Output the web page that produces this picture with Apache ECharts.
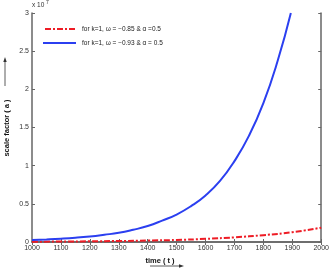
<!DOCTYPE html>
<html><head><meta charset="utf-8">
<script src="https://cdn.jsdelivr.net/npm/echarts@6/dist/echarts.min.js"></script>
<style>html,body{margin:0;padding:0;background:#fff}#c{width:332px;height:268px}</style>
</head><body><div id="c"></div>
<script>
const blueT = [1000,1050,1100,1150,1200,1250,1300,1350,1400,1450,1500,1550,1600,1650,1700,1750,1800,1850,1895];
const blueA = [0.025,0.033,0.043,0.056,0.073,0.095,0.12,0.16,0.21,0.28,0.36,0.47,0.61,0.80,1.06,1.39,1.82,2.38,3.0];
const redT = [1000,1100,1200,1300,1400,1500,1600,1700,1800,1900,2000];
const redA = [0.004,0.006,0.009,0.013,0.019,0.027,0.041,0.061,0.09,0.128,0.188];
const xTicks = [1000,1100,1200,1300,1400,1500,1600,1700,1800,1900,2000];
const yTicks = [0,0.5,1,1.5,2,2.5,3];
const legendLabels = ['for k=1, \u03c9 = \u22120.85 & \u03b1 =0.5','for k=1, \u03c9 = \u22120.93 & \u03b1 = 0.5'];
const yName = 'scale factor ( a )';
const xName = 'time ( t )';

const chart = echarts.init(document.getElementById('c'), null, {renderer:'canvas'});
const axisLine = {show:true, lineStyle:{color:'#666', width:1.5}};
const tick = {show:true, inside:true, length:3, lineStyle:{color:'#666'}};
const font = 'Liberation Sans, Arial, sans-serif';
chart.setOption({
  animation:false,
  grid:{left:32, right:10, top:13, bottom:26},
  xAxis:[{type:'value', min:xTicks[0], max:xTicks[xTicks.length-1], interval:100, axisLine, axisTick:tick, splitLine:{show:false},
    axisLabel:{fontSize:7, color:'#333', margin:3, fontFamily:font, formatter:v=>String(v)}},
    {type:'value', position:'top', min:1000, max:2000, interval:100, axisLine, axisTick:tick, axisLabel:{show:false}, splitLine:{show:false}}],
  yAxis:[{type:'value', min:yTicks[0], max:yTicks[yTicks.length-1], interval:0.5, axisLine, axisTick:tick, splitLine:{show:false},
    axisLabel:{fontSize:7, color:'#333', margin:3, fontFamily:font, formatter:v=>String(v)}},
    {type:'value', position:'right', min:0, max:3, interval:0.5, axisLine, axisTick:tick, axisLabel:{show:false}, splitLine:{show:false}}],
  series:[
    {type:'line', name:legendLabels[0], data:redT.map((t,i)=>[t,redA[i]]), showSymbol:false, smooth:true,
      lineStyle:{color:'#ee1c25', width:2, type:[6,2,2,2]}},
    {type:'line', name:legendLabels[1], data:blueT.map((t,i)=>[t,blueA[i]]), showSymbol:false, smooth:true,
      lineStyle:{color:'#2b3ff0', width:2}, clip:true}
  ],
  graphic:[
    {type:'line', shape:{x1:45,y1:29,x2:76,y2:29}, style:{stroke:'#ee1c25', lineWidth:2, lineDash:[6,2,2,2]}},
    {type:'text', x:82, y:29, style:{text:legendLabels[0], fontSize:6.5, fill:'#222', verticalAlign:'middle', font:'6.5px '+font}},
    {type:'line', shape:{x1:43,y1:43,x2:76,y2:43}, style:{stroke:'#2b3ff0', lineWidth:2}},
    {type:'text', x:82, y:43, style:{text:legendLabels[1], fontSize:6.5, fill:'#222', verticalAlign:'middle', font:'6.5px '+font}},
    {type:'text', x:32, y:2, style:{text:'x 10', font:'6.5px '+font, fill:'#333'}},
    {type:'text', x:46, y:0, style:{text:'7', font:'5px '+font, fill:'#333'}},
    {type:'text', x:7, y:128, rotation:Math.PI/2, style:{text:yName, font:'bold 7.5px '+font, fill:'#111', align:'center', verticalAlign:'middle'}},
    {type:'text', x:160, y:261, style:{text:xName, font:'bold 7.5px '+font, fill:'#111', align:'center', verticalAlign:'middle'}},
    {type:'line', shape:{x1:5,y1:86,x2:5,y2:60}, style:{stroke:'#333', lineWidth:0.8}},
    {type:'polygon', shape:{points:[[5,57],[3.3,62],[6.7,62]]}, style:{fill:'#333'}},
    {type:'line', shape:{x1:150,y1:266,x2:181,y2:266}, style:{stroke:'#333', lineWidth:0.8}},
    {type:'polygon', shape:{points:[[184,266],[179,264.3],[179,267.7]]}, style:{fill:'#333'}}
  ]
});
</script></body></html>
